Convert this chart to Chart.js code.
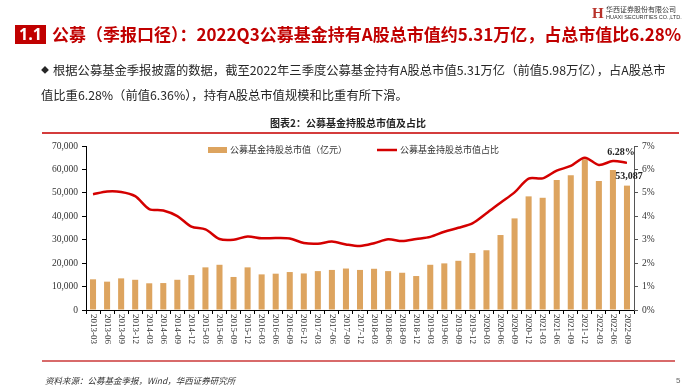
<!DOCTYPE html>
<html>
<head>
<meta charset="utf-8">
<script src="https://cdn.jsdelivr.net/npm/chart.js@4/dist/chart.umd.min.js"></script>
<style>
  html, body { margin: 0; padding: 0; background: #fff; }
  body { width: 700px; height: 392px; position: relative; overflow: hidden; font-family: "Noto Sans CJK SC", sans-serif; }
  #wrap { position: absolute; left: 0; top: 0; width: 700px; height: 392px; }
  .abs { position: absolute; white-space: nowrap; }
  .num-box { left: 15px; top: 25px; width: 31px; height: 19px; background: #c00000; color: #fff; font: bold 16px "Open Sans", sans-serif; line-height: 19px; text-align: center; clip-path: polygon(0 0, 100% 0, 100% 70%, 115% 100%, 0 100%); }
  .title { left: 52px; top: 22px; color: #c00000; font-weight: bold; font-size: 17px; line-height: 24px; }
  .logo-h { left: 592px; top: 6px; color: #b8322a; font: bold 15px "Liberation Serif", serif; line-height: 15px; }
  .logo-cn { left: 606px; top: 5px; font: 7px "Noto Sans CJK SC", sans-serif; color: #333; line-height: 9px; }
  .logo-en { left: 606px; top: 14px; font: 5.5px "Liberation Sans", sans-serif; color: #333; line-height: 7px; }
  .bullet { font-size: 12.3px; color: #262626; line-height: 20px; }
  .dot { font-size: 8px; vertical-align: 2px; margin-right: 4px; }
  .ctitle { left: 0; width: 696px; top: 115px; text-align: center; font-weight: bold; font-size: 10px; color: #222; }
  .rule { position: absolute; left: 42px; height: 2px; }
  .source { left: 45px; top: 374px; font-size: 8.5px; font-style: italic; color: #333; }
  .page { left: 676px; top: 376px; font: 8px "Liberation Sans", sans-serif; color: #666; }
</style>
</head>
<body>
<div id="wrap"><canvas id="chart"></canvas></div>

<div class="abs num-box">1.1</div>
<div class="abs title">公募（季报口径）：2022Q3公募基金持有A股总市值约5.31万亿，占总市值比6.28%</div>
<div class="abs logo-h">H</div>
<div class="abs logo-cn">华西证券股份有限公司</div>
<div class="abs logo-en">HUAXI SECURITIES CO.,LTD.</div>
<div class="abs bullet" style="left:41px; top:60px;"><span class="dot">◆</span>根据公募基金季报披露的数据，截至2022年三季度公募基金持有A股总市值5.31万亿（前值5.98万亿），占A股总市</div>
<div class="abs bullet" style="left:41px; top:85px;">值比重6.28%（前值6.36%），持有A股总市值规模和比重有所下滑。</div>
<div class="abs ctitle">图表2：公募基金持股总市值及占比</div>
<div class="rule" style="top:132px; width:637px; background:#d43c3c;"></div>
<div class="rule" style="top:360px; width:633px; background:#d86a6a;"></div>
<div class="abs source">资料来源：公募基金季报，Wind，华西证券研究所</div>
<div class="abs page">5</div>

<script>
// === data ===
const quarters = [
  '2013-03', '2013-06', '2013-09', '2013-12',
  '2014-03', '2014-06', '2014-09', '2014-12',
  '2015-03', '2015-06', '2015-09', '2015-12',
  '2016-03', '2016-06', '2016-09', '2016-12',
  '2017-03', '2017-06', '2017-09', '2017-12',
  '2018-03', '2018-06', '2018-09', '2018-12',
  '2019-03', '2019-06', '2019-09', '2019-12',
  '2020-03', '2020-06', '2020-09', '2020-12',
  '2021-03', '2021-06', '2021-09', '2021-12',
  '2022-03', '2022-06', '2022-09'
];

// 公募基金持股总市值（亿元）
const holdValue = [
  13100, 12100, 13500, 12900,
  11400, 11500, 12900, 14900,
  18200, 19300, 14100, 18200,
  15200, 15500, 16200, 15600,
  16600, 17100, 17700, 17100,
  17600, 16600, 15900, 14500,
  19300, 19900, 21000, 24300,
  25500, 32000, 39100, 48500,
  47900, 55500, 57500, 64300,
  55100, 59800, 53087
];

// 公募基金持股总市值占比（%）
const sharePct = [
  4.94, 5.06, 5.04, 4.86,
  4.31, 4.25, 4.01, 3.56,
  3.44, 3.03, 3.00, 3.14,
  3.06, 3.07, 3.05, 2.86,
  2.83, 2.92, 2.80, 2.73,
  2.85, 3.02, 2.94, 3.03,
  3.12, 3.34, 3.51, 3.70,
  4.13, 4.58, 5.02, 5.61,
  5.62, 5.95, 6.15, 6.50,
  6.19, 6.36, 6.28
];

const leftTicks = [0, 10000, 20000, 30000, 40000, 50000, 60000, 70000];
const rightTicks = [0, 1, 2, 3, 4, 5, 6, 7];

const barColor = '#dda45f';
const lineColor = '#d40000';
const serif = '"Liberation Serif", "Times New Roman", serif';
const cjk = '"Noto Sans CJK SC", sans-serif';

// x labels rotated clockwise, legend and end labels
const extras = {
  id: 'extras',
  afterDraw(chart) {
    const c = chart.ctx;
    const xs = chart.scales.x;
    const area = chart.chartArea;

    c.save();
    c.fillStyle = '#333';
    c.font = '9px ' + serif;
    c.textAlign = 'left';
    c.textBaseline = 'middle';
    xs.ticks.forEach((t, i) => {
      c.save();
      c.translate(xs.getPixelForTick(i), area.bottom + 4);
      c.rotate(Math.PI / 2);
      c.fillText(quarters[i], 0, 0);
      c.restore();
    });
    c.restore();

    // legend
    const [lineDs, barDs] = chart.data.datasets;
    c.save();
    c.font = '9px ' + cjk;
    c.textBaseline = 'middle';
    c.fillStyle = barDs.backgroundColor;
    c.fillRect(208, 147, 19, 6);
    c.fillStyle = '#333';
    c.fillText(barDs.label, 230, 150);
    c.strokeStyle = lineDs.borderColor;
    c.lineWidth = 2.5;
    c.beginPath();
    c.moveTo(377, 150);
    c.lineTo(397, 150);
    c.stroke();
    c.fillText(lineDs.label, 400, 150);
    c.restore();

    // last values
    const last = quarters.length - 1;
    const px = xs.getPixelForValue(last);
    const yl = chart.scales.y1.getPixelForValue(sharePct[last]);
    const yb = chart.scales.y.getPixelForValue(holdValue[last]);
    c.save();
    c.font = 'bold 10px ' + serif;
    c.fillStyle = '#222';
    c.textAlign = 'center';
    c.textBaseline = 'middle';
    c.fillText(sharePct[last].toFixed(2) + '%', px - 6, yl - 10);
    c.fillText(holdValue[last].toLocaleString('en-US'), px + 2, yb - 9);
    c.restore();
  }
};

new Chart(document.getElementById('chart'), {
  data: {
    labels: quarters,
    datasets: [
      {
        type: 'line',
        label: '公募基金持股总市值占比',
        data: sharePct,
        yAxisID: 'y1',
        borderColor: lineColor,
        borderWidth: 2.5,
        pointRadius: 0,
        tension: 0.3,
        order: 0
      },
      {
        type: 'bar',
        label: '公募基金持股总市值（亿元）',
        data: holdValue,
        yAxisID: 'y',
        backgroundColor: barColor,
        barPercentage: 0.43,
        categoryPercentage: 1,
        order: 1
      }
    ]
  },
  options: {
    responsive: true,
    maintainAspectRatio: false,
    animation: false,
    layout: { padding: { top: 146, bottom: 32, left: 0, right: 0 } },
    plugins: { legend: { display: false }, tooltip: { enabled: false } },
    scales: {
      x: {
        grid: { offset: true, drawOnChartArea: false, drawTicks: true, tickLength: 4, color: '#000' },
        border: { color: '#000', width: 1 },
        ticks: { display: false },
        afterFit: s => { s.height = 50; }
      },
      y: {
        position: 'left',
        min: 0, max: 70000,
        afterBuildTicks: s => { s.ticks = leftTicks.map(v => ({ value: v })); },
        ticks: {
          font: { family: serif, size: 9.5 },
          color: '#333',
          padding: 4,
          callback: v => v.toLocaleString('en-US')
        },
        grid: { drawOnChartArea: false, tickLength: 4, color: '#000' },
        border: { color: '#000', width: 1 },
        afterFit: s => { s.width = 86; }
      },
      y1: {
        position: 'right',
        min: 0, max: 7,
        afterBuildTicks: s => { s.ticks = rightTicks.map(v => ({ value: v })); },
        ticks: {
          font: { family: serif, size: 9.5 },
          color: '#333',
          padding: 4,
          callback: v => v + '%'
        },
        grid: { drawOnChartArea: false, tickLength: 4, color: '#555' },
        border: { color: '#555', width: 1 },
        afterFit: s => { s.width = 66; }
      }
    }
  },
  plugins: [extras]
});
</script>
</body>
</html>
